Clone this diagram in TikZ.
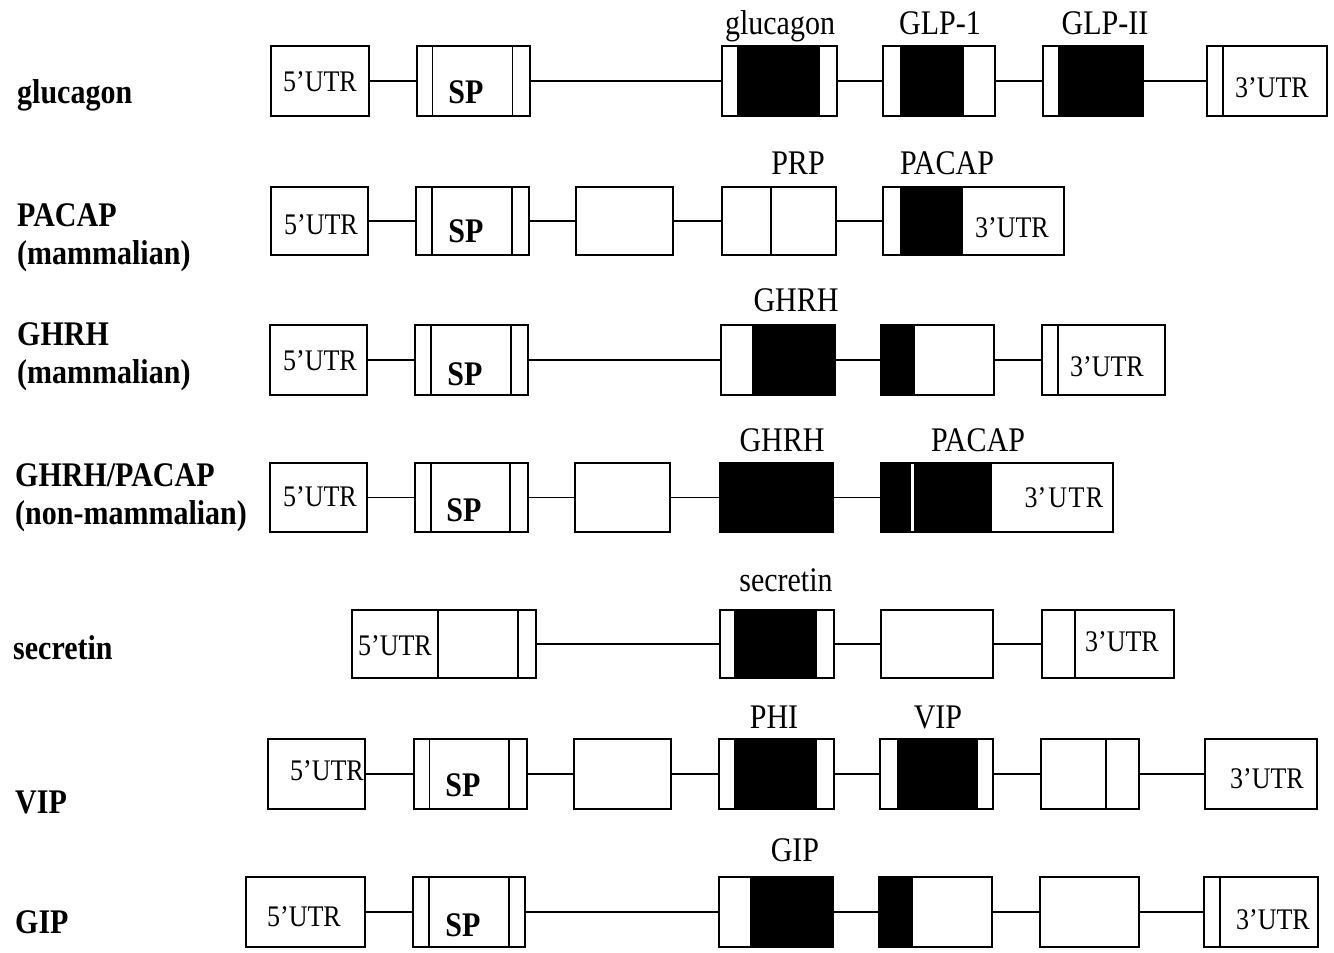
\documentclass[tikz,border=0pt]{standalone}
\usepackage{fontspec}
\usepackage{graphicx}
\setmainfont{Liberation Serif}
\tikzset{
  bx/.style={draw, line width=1.5pt, inner sep=0pt, outer sep=0pt},
  conn/.style={line width=1.5pt},
  divline/.style={line width=1.5pt},
  utr/.style={font=\fontsize{26}{30}\selectfont, inner sep=0pt},
  sptext/.style={font=\bfseries\fontsize{30}{34}\selectfont, inner sep=0pt},
  feat/.style={font=\fontsize{30}{34}\selectfont, inner sep=0pt},
  gene/.style={font=\bfseries\fontsize{30}{38}\selectfont, inner sep=0pt, anchor=west, align=left},
}
% vertically stretched text, as in the reference
\newcommand\T[1]{\scalebox{1}[1.15]{#1}}
% box: name, x1, x2, y1, y2
\newcommand\Bx[5]{\node[bx, minimum width={(#3)-(#2)}, minimum height={(#5)-(#4)}] (#1) at ({((#2)+(#3))/2},{((#4)+(#5))/2}) {};}
% black fill: x1, x2, y1, y2
\newcommand\Blk[4]{\fill (#1,#3) rectangle (#2,#4);}
% division line: x, y1, y2
\newcommand\Dv[3]{\draw[divline] (#1,#2) -- (#1,#3);}
\begin{document}
\begin{tikzpicture}[x=1pt,y=-1pt]
\useasboundingbox (0,0) rectangle (1334,953);
\fill[white] (0,0) rectangle (1334,953);

% ---------------- Row 1: glucagon ----------------
\node[gene] (L1) at (17,95) {\T{glucagon}};
\Blk{737}{820}{46}{116}
\Blk{900}{964}{46}{116}
\Blk{1058}{1143}{46}{116}
\Bx{a1}{271}{369}{46}{116}
\Bx{a2}{417}{530}{46}{116}
\Dv{432.5}{46}{116}\Dv{512.5}{46}{116}
\Bx{a3}{722}{837}{46}{116}
\Bx{a4}{883}{995}{46}{116}
\Bx{a5}{1043}{1143}{46}{116}
\Bx{a6}{1207}{1327}{46}{116}
\Dv{1223}{46}{116}
\node[utr] (a1t) at (320,82) {\T{5’UTR}};
\node[sptext] (a2t) at (466,92) {\T{SP}};
\node[feat] (a3t) at (780,26) {\T{glucagon}};
\node[feat] (a4t) at (940,23) {\T{GLP-1}};
\node[feat] (a5t) at (1105,23) {\T{GLP-II}};
\node[utr] (a6t) at (1272,88) {\T{3’UTR}};
\draw[conn] (a1) -- (a2); \draw[conn] (a2) -- (a3); \draw[conn] (a3) -- (a4);
\draw[conn] (a4) -- (a5); \draw[conn] (a5) -- (a6);

% ---------------- Row 2: PACAP (mammalian) ----------------
\node[gene] (L2) at (17,238) {\T{PACAP}\\\T{(mammalian)}};
\Blk{900}{963}{187}{255}
\Bx{b1}{271}{368}{187}{255}
\Bx{b2}{416}{529}{187}{255}
\Dv{432}{187}{255}\Dv{512}{187}{255}
\Bx{b3}{576}{673}{187}{255}
\Bx{b4}{722}{836}{187}{255}
\Dv{771}{187}{255}
\Bx{b5}{883}{1064}{187}{255}
\node[utr] (b1t) at (321,225) {\T{5’UTR}};
\node[sptext] (b2t) at (466,231) {\T{SP}};
\node[feat] (b4t) at (798,163) {\T{PRP}};
\node[feat] (b5a) at (947,163) {\T{PACAP}};
\node[utr] (b5t) at (1012,228) {\T{3’UTR}};
\draw[conn] (b1) -- (b2); \draw[conn] (b2) -- (b3); \draw[conn] (b3) -- (b4);
\draw[conn] (b4) -- (b5);

% ---------------- Row 3: GHRH (mammalian) ----------------
\node[gene] (L3) at (17,357) {\T{GHRH}\\\T{(mammalian)}};
\Blk{752}{835}{325}{395}
\Blk{881}{915}{325}{395}
\Bx{c1}{270}{367}{325}{395}
\Bx{c2}{415}{528}{325}{395}
\Dv{431}{325}{395}\Dv{511}{325}{395}
\Bx{c3}{721}{835}{325}{395}
\Bx{c4}{881}{994}{325}{395}
\Bx{c5}{1042}{1165}{325}{395}
\Dv{1058}{325}{395}
\node[utr] (c1t) at (320,361) {\T{5’UTR}};
\node[sptext] (c2t) at (465,374) {\T{SP}};
\node[feat] (c3t) at (796,300) {\T{GHRH}};
\node[utr] (c5t) at (1107,367) {\T{3’UTR}};
\draw[conn] (c1) -- (c2); \draw[conn] (c2) -- (c3); \draw[conn] (c3) -- (c4);
\draw[conn] (c4) -- (c5);

% ---------------- Row 4: GHRH/PACAP (non-mammalian) ----------------
\node[gene] (L4) at (15,498) {\T{GHRH/PACAP}\\\T{(non-mammalian)}};
\Blk{720}{833}{463}{532}
\Blk{881}{911}{463}{532}
\Blk{913.5}{992}{463}{532}
\Bx{d1}{270}{367}{463}{532}
\Bx{d2}{415}{528}{463}{532}
\Dv{431}{463}{532}\Dv{510}{463}{532}
\Bx{d3}{575}{670}{463}{532}
\Bx{d4}{720}{833}{463}{532}
\Bx{d5}{881}{1113}{463}{532}
\node[utr] (d1t) at (320,497) {\T{5’UTR}};
\node[sptext] (d2t) at (464,510) {\T{SP}};
\node[feat] (d4t) at (782,440) {\T{GHRH}};
\node[feat] (d5a) at (978,440) {\T{PACAP}};
\node[utr] (d5t) at (1064,498) {\T{3’\kern2pt U\kern1.5pt T\kern1.5pt R}};
\draw[conn] (d1) -- (d2); \draw[conn] (d2) -- (d3); \draw[conn] (d3) -- (d4);
\draw[conn] (d4) -- (d5);

% ---------------- Row 5: secretin ----------------
\node[gene] (L5) at (13,648) {\T{secretin}};
\Blk{734}{817}{610}{678}
\Bx{e1}{352}{536}{610}{678}
\Dv{438}{610}{678}\Dv{518}{610}{678}
\Bx{e2}{720}{834}{610}{678}
\Bx{e3}{881}{993}{610}{678}
\Bx{e4}{1042}{1174}{610}{678}
\Dv{1075}{610}{678}
\node[utr] (e1t) at (395,646) {\T{5’UTR}};
\node[feat] (e2t) at (786,580) {\T{secretin}};
\node[utr] (e4t) at (1122,642) {\T{3’UTR}};
\draw[conn] (e1) -- (e2); \draw[conn] (e2) -- (e3); \draw[conn] (e3) -- (e4);

% ---------------- Row 6: VIP ----------------
\node[gene] (L6) at (15,802) {\T{VIP}};
\Blk{734}{817}{739}{809}
\Blk{897}{978}{739}{809}
\Bx{f1}{268}{365}{739}{809}
\Bx{f2}{414}{527}{739}{809}
\Dv{429.5}{739}{809}\Dv{509}{739}{809}
\Bx{f3}{574}{671}{739}{809}
\Bx{f4}{719}{834}{739}{809}
\Bx{f5}{880}{993}{739}{809}
\Bx{f6}{1041}{1139}{739}{809}
\Dv{1106}{739}{809}
\Bx{f7}{1205}{1317}{739}{809}
\node[utr] (f1t) at (327,771) {\T{5’UTR}};
\node[sptext] (f2t) at (463,785) {\T{SP}};
\node[feat] (f4t) at (774,717) {\T{PHI}};
\node[feat] (f5t) at (938,717) {\T{VIP}};
\node[utr] (f7t) at (1267,779) {\T{3’UTR}};
\draw[conn] (f1) -- (f2); \draw[conn] (f2) -- (f3); \draw[conn] (f3) -- (f4);
\draw[conn] (f4) -- (f5); \draw[conn] (f5) -- (f6); \draw[conn] (f6) -- (f7);

% ---------------- Row 7: GIP ----------------
\node[gene] (L7) at (15,922) {\T{GIP}};
\Blk{750}{833}{877}{947}
\Blk{879}{913}{877}{947}
\Bx{g1}{246}{365}{877}{947}
\Bx{g2}{413}{525}{877}{947}
\Dv{429}{877}{947}\Dv{509}{877}{947}
\Bx{g3}{719}{833}{877}{947}
\Bx{g4}{879}{992}{877}{947}
\Bx{g5}{1040}{1139}{877}{947}
\Bx{g6}{1204}{1318}{877}{947}
\Dv{1220}{877}{947}
\node[utr] (g1t) at (304,917) {\T{5’UTR}};
\node[sptext] (g2t) at (463,925) {\T{SP}};
\node[feat] (g3t) at (795,850) {\T{GIP}};
\node[utr] (g6t) at (1273,920) {\T{3’UTR}};
\draw[conn] (g1) -- (g2); \draw[conn] (g2) -- (g3); \draw[conn] (g3) -- (g4);
\draw[conn] (g4) -- (g5); \draw[conn] (g5) -- (g6);
\end{tikzpicture}
\end{document}
